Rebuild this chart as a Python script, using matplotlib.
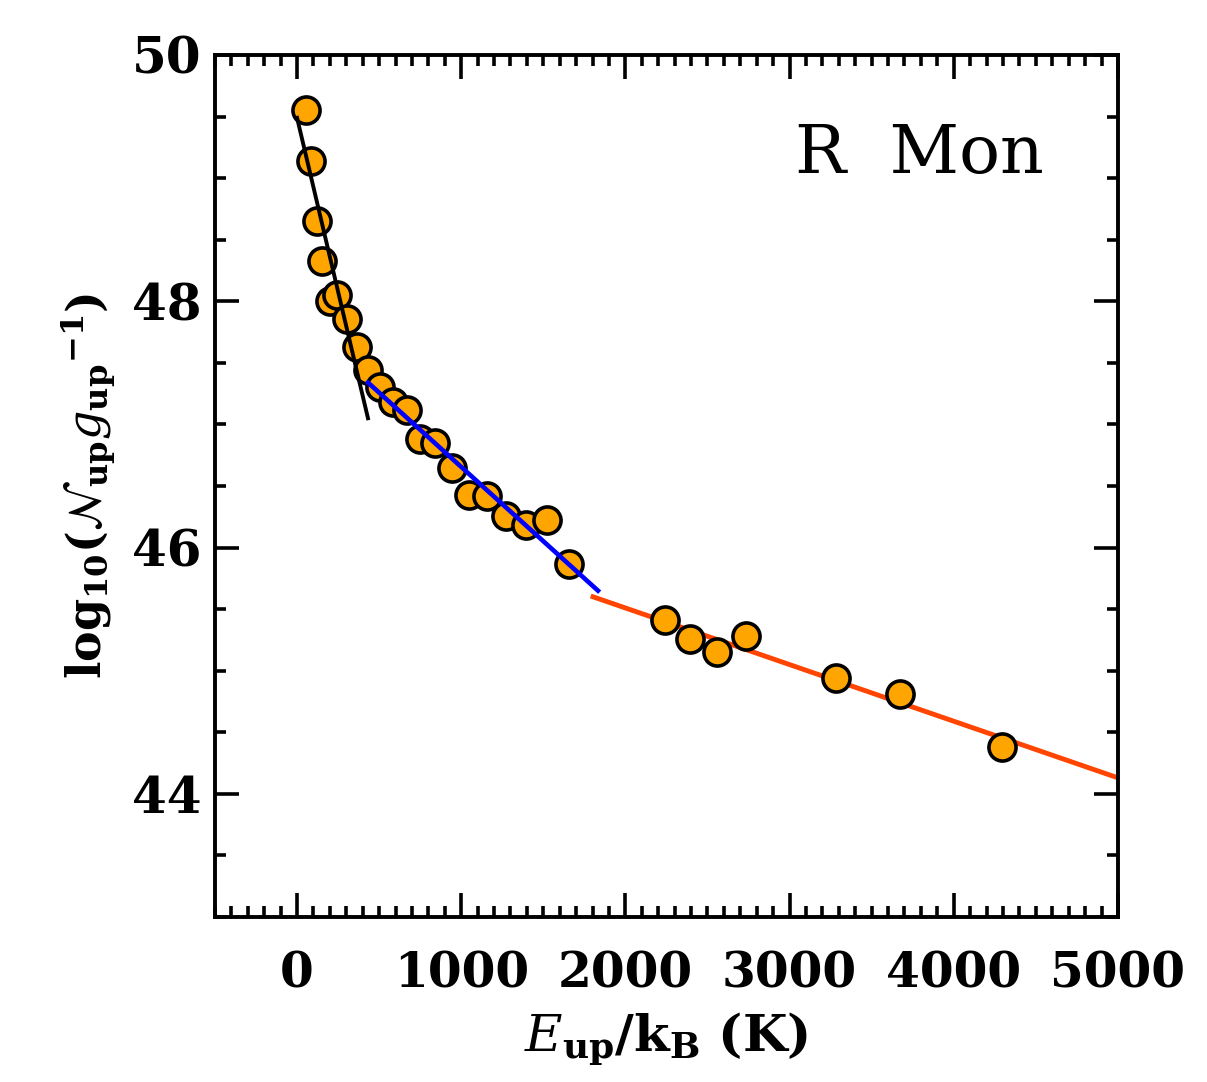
import matplotlib
matplotlib.use("Agg")
import matplotlib.pyplot as plt
from matplotlib.ticker import MultipleLocator

# Data
energy_K = [55, 85, 122, 152, 201, 244, 305, 365, 432, 505, 585, 670, 749, 840,
            944, 1048, 1157, 1273, 1395, 1523, 1657,
            2241, 2393, 2558, 2734, 3283, 3672, 4293]
log_N = [49.55, 49.14, 48.65, 48.33, 48.00, 48.05, 47.86, 47.63, 47.44, 47.30,
         47.18, 47.12, 46.88, 46.85, 46.65, 46.43, 46.42, 46.26, 46.18, 46.22,
         45.87, 45.41, 45.26, 45.15, 45.28, 44.94, 44.81, 44.38]

fit_cold_x = [0, 432]
fit_cold_y = [49.49, 47.05]
fit_warm_x = [432, 1833]
fit_warm_y = [47.34, 45.65]
fit_hot_x = [1803, 5000]
fit_hot_y = [45.60, 44.13]

x_ticks = [0, 1000, 2000, 3000, 4000, 5000]
y_ticks = [44, 46, 48, 50]

plt.rcParams['mathtext.fontset'] = 'dejavuserif'
plt.rcParams['font.family'] = ['DejaVu Serif']

fig = plt.figure(figsize=(12.07, 10.82), dpi=100)
ax = fig.add_axes([0.1781, 0.1525, 0.7481, 0.7967])

ax.plot(fit_cold_x, fit_cold_y, color='black', lw=2.8, zorder=3)
ax.plot(fit_warm_x, fit_warm_y, color='#0000ff', lw=3.3, zorder=3)
ax.plot(fit_hot_x, fit_hot_y, color='#ff4500', lw=3.5, zorder=1)
ax.plot(energy_K, log_N, 'o', ms=19.5, mfc='#ffa500', mec='black', mew=2.6,
        ls='none', zorder=2)

ax.set_xlim(-500, 5000)
ax.set_ylim(43, 50)
ax.set_xticks(x_ticks)
ax.set_yticks(y_ticks)
ax.xaxis.set_minor_locator(MultipleLocator(100))
ax.yaxis.set_minor_locator(MultipleLocator(0.5))

ax.tick_params(which='both', direction='in', top=True, right=True, width=2.6)
ax.tick_params(which='major', length=17)
ax.tick_params(which='minor', length=8)
ax.tick_params(axis='x', which='major', pad=24, labelsize=35)
ax.tick_params(axis='y', which='major', pad=10, labelsize=36)
for lab in ax.get_xticklabels() + ax.get_yticklabels():
    lab.set_fontweight('bold')
for sp in ax.spines.values():
    sp.set_linewidth(2.8)

ax.set_xlabel(r'$\mathbf{\mathit{E}_{up}/k_B}$ $\mathbf{(K)}$', fontsize=37, labelpad=10)
ax.set_ylabel(r'$\mathbf{log_{10}(\mathcal{N}_{up}\mathit{g}_{up}{}^{-1})}$', fontsize=33, labelpad=10)

ax.text(0.78, 0.885, 'R  Mon', transform=ax.transAxes, fontsize=49,
        ha='center', va='center')

fig.savefig('out.png', dpi=100)
